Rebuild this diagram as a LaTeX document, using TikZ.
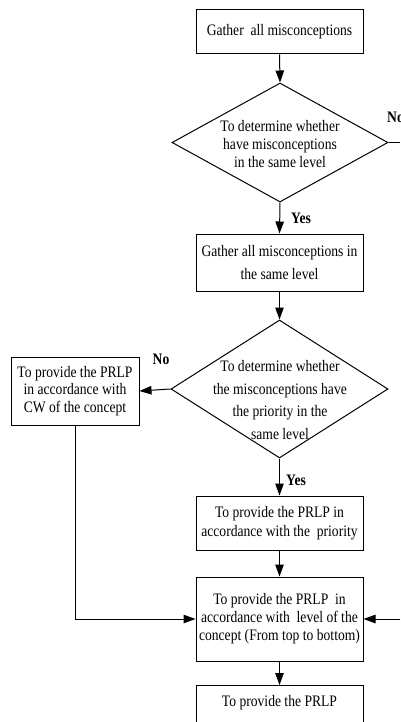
\documentclass[tikz,border=0pt]{standalone}
\usepackage{fontspec}
\setmainfont{Liberation Serif}[FakeStretch=0.85]
\usetikzlibrary{arrows.meta,shapes.geometric}
\begin{document}
\begin{tikzpicture}[x=1pt,y=-1pt,
  box/.style={draw, line width=1pt, minimum width=167pt, inner sep=0pt, align=center,
              font=\fontsize{16}{18}\selectfont},
  dia/.style={draw, line width=1pt, diamond, inner sep=0pt, aspect=1.8},
  dtext/.style={align=center, inner sep=0pt},
  arr/.style={line width=1pt, -{Triangle[length=12pt,width=8.5pt]}},
  ln/.style={line width=1pt},
  lbl/.style={font=\fontsize{16}{18}\selectfont\bfseries, inner sep=0pt}]
\clip (0,0) rectangle (400,722);
\useasboundingbox (0,0) rectangle (400,722);

% main column
\node[box, minimum height=44pt] (b1) at (279.5,32) {Gather\ \ all misconceptions};
\node[dia, minimum width=216pt, minimum height=119pt] (d1) at (280,142.5) {};
\node[dtext, font=\fontsize{16}{18}\selectfont] (t1) at (280,144)
  {To determine whether\\have misconceptions\\in the same level};
\node[box, minimum height=57pt, font=\fontsize{16}{23}\selectfont] (b2) at (279.5,262.5)
  {Gather all misconceptions in\\the same level};
\node[dia, minimum width=217pt, minimum height=138pt] (d2) at (279.5,389) {};
\node[dtext, font=\fontsize{16}{22.5}\selectfont] (t2) at (280,400)
  {To determine whether\\the misconceptions have\\the priority in the\\same level};
\node[box, minimum height=54pt, font=\fontsize{16}{18.5}\selectfont] (b4) at (279.5,523)
  {To provide the PRLP in\\accordance with the\ \ priority};
\node[box, minimum height=84pt] (b5) at (279.5,619)
  {To provide the PRLP\ \ in\\accordance with\ \ level of the\\concept (From top to bottom)};
\node[box, minimum height=54pt, anchor=north] (b6) at (279.5,685)
  {To provide the PRLP\\\strut};

% left box
\node[box, minimum width=128pt, minimum height=68pt, font=\fontsize{16}{17.5}\selectfont] (lb) at (75,391)
  {To provide the PRLP\\in accordance with\\CW of the concept};

% right-edge coordinates
\coordinate (e1) at (400,142.5);
\coordinate (e2) at (400,619);

% connectors
\draw[arr] (b1.south) -- (d1.north);
\draw[arr] (d1.south) -- (b2.north);
\draw[arr] (b2.south) -- (d2.north);
\draw[arr] (d2.west) -- (lb.east);
\draw[arr] (d2.south) -- (b4.north);
\draw[arr] (b4.south) -- (b5.north);
\draw[arr] (b5.south) -- (b6.north);
\draw[arr] (lb.south) |- (b5.west);
\draw[ln] (d1.east) -- (e1);
\draw[arr] (e2) -- (b5.east);

% labels
\node[lbl] (yes1) at (301,218) {Yes};
\node[lbl] (no1) at (395.5,117) {No};
\node[lbl] (no2) at (161,359) {No};
\node[lbl] (yes2) at (296,480) {Yes};
\end{tikzpicture}
\end{document}
